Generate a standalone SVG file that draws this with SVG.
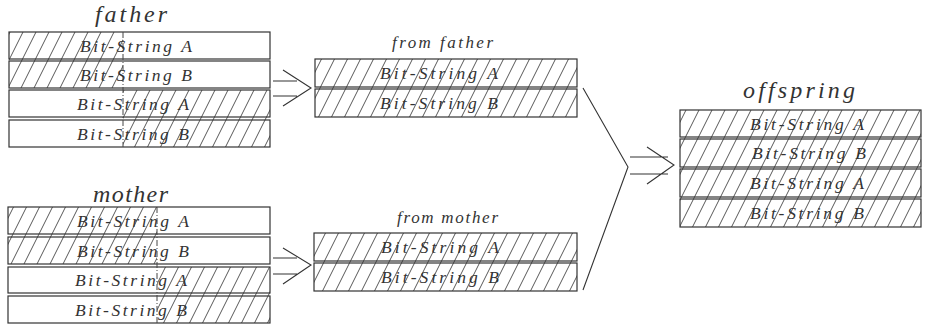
<svg xmlns="http://www.w3.org/2000/svg" width="931" height="329" viewBox="0 0 931 329">
<defs>
<pattern id="hatch" patternUnits="userSpaceOnUse" width="13" height="26">
<path d="M-20,40 L7,-14 M-7,40 L20,-14 M6,40 L33,-14" stroke="#444" stroke-width="0.9" fill="none"/>
</pattern>
<style>
.box{fill:none;stroke:#333;stroke-width:1.2}
.hat{fill:url(#hatch);stroke:none}
.dash{stroke:#444;stroke-width:1;stroke-dasharray:6 2 1 2;fill:none}
.bs{font-family:"Liberation Serif",serif;font-style:italic;font-size:17.5px;fill:#333}
.hd{font-family:"Liberation Serif",serif;font-style:italic;font-size:24px;fill:#333}
.sub{font-family:"Liberation Serif",serif;font-style:italic;font-size:17px;fill:#333}
.ln{stroke:#333;stroke-width:1.1;fill:none}
</style>
</defs>
<rect width="931" height="329" fill="#fff"/>

<g id="father">
<text class="hd" x="95" y="22" textLength="72" lengthAdjust="spacing">father</text>
<rect class="hat" x="9" y="32" width="114" height="56"/>
<rect class="hat" x="123" y="90" width="147" height="57"/>
<rect class="box" x="9" y="32" width="261" height="27"/>
<rect class="box" x="9" y="61" width="261" height="27"/>
<rect class="box" x="9" y="90" width="261" height="27"/>
<rect class="box" x="9" y="120" width="261" height="27"/>
<line class="dash" x1="123" y1="32" x2="123" y2="147"/>
<text class="bs" x="80" y="52" textLength="112" lengthAdjust="spacing">Bit-String A</text>
<text class="bs" x="80" y="81" textLength="112" lengthAdjust="spacing">Bit-String B</text>
<text class="bs" x="77" y="110" textLength="112" lengthAdjust="spacing">Bit-String A</text>
<text class="bs" x="77" y="140" textLength="112" lengthAdjust="spacing">Bit-String B</text>
</g>

<g id="mother">
<text class="hd" x="93" y="202" textLength="75" lengthAdjust="spacing">mother</text>
<rect class="hat" x="8" y="207" width="149" height="57"/>
<rect class="hat" x="157" y="267" width="113" height="56"/>
<rect class="box" x="8" y="207" width="262" height="27"/>
<rect class="box" x="8" y="237" width="262" height="27"/>
<rect class="box" x="8" y="267" width="262" height="26"/>
<rect class="box" x="8" y="296" width="262" height="27"/>
<line class="dash" x1="157" y1="207" x2="157" y2="323"/>
<text class="bs" x="77" y="227" textLength="112" lengthAdjust="spacing">Bit-String A</text>
<text class="bs" x="77" y="257" textLength="112" lengthAdjust="spacing">Bit-String B</text>
<text class="bs" x="75" y="286" textLength="112" lengthAdjust="spacing">Bit-String A</text>
<text class="bs" x="75" y="316" textLength="112" lengthAdjust="spacing">Bit-String B</text>
</g>

<g id="fromFather">
<text class="sub" x="392" y="48" textLength="101" lengthAdjust="spacing">from father</text>
<rect class="hat" x="315" y="59" width="262" height="58"/>
<rect class="box" x="315" y="59" width="262" height="28"/>
<rect class="box" x="315" y="89" width="262" height="28"/>
<text class="bs" x="380" y="79" textLength="118" lengthAdjust="spacing">Bit-String A</text>
<text class="bs" x="380" y="109" textLength="118" lengthAdjust="spacing">Bit-String B</text>
</g>

<g id="fromMother">
<text class="sub" x="397" y="223" textLength="101" lengthAdjust="spacing">from mother</text>
<rect class="hat" x="314" y="233" width="263" height="58"/>
<rect class="box" x="314" y="233" width="263" height="28"/>
<rect class="box" x="314" y="263" width="263" height="28"/>
<text class="bs" x="381" y="253" textLength="118" lengthAdjust="spacing">Bit-String A</text>
<text class="bs" x="381" y="283" textLength="118" lengthAdjust="spacing">Bit-String B</text>
</g>

<g id="offspring">
<text class="hd" x="743" y="98" textLength="112" lengthAdjust="spacing">offspring</text>
<rect class="hat" x="680" y="110" width="241" height="117"/>
<rect class="box" x="680" y="110" width="241" height="27"/>
<rect class="box" x="680" y="139" width="241" height="28"/>
<rect class="box" x="680" y="169" width="241" height="28"/>
<rect class="box" x="680" y="199" width="241" height="28"/>
<text class="bs" x="750" y="130" textLength="114" lengthAdjust="spacing">Bit-String A</text>
<text class="bs" x="752" y="159" textLength="114" lengthAdjust="spacing">Bit-String B</text>
<text class="bs" x="750" y="189" textLength="114" lengthAdjust="spacing">Bit-String A</text>
<text class="bs" x="750" y="219" textLength="114" lengthAdjust="spacing">Bit-String B</text>
</g>

<g id="connectors">
<path class="ln" d="M273,81 H297 M273,96 H297 M283,70 L311,88 L283,106"/>
<path class="ln" d="M273,258 H297 M273,274 H297 M283,248 L311,265 L283,284"/>
<path class="ln" d="M583,88 L628,167 L583,290"/>
<path class="ln" d="M630,157 H668 M630,174 H668 M647,147 L674,165 L647,184"/>
</g>
</svg>
